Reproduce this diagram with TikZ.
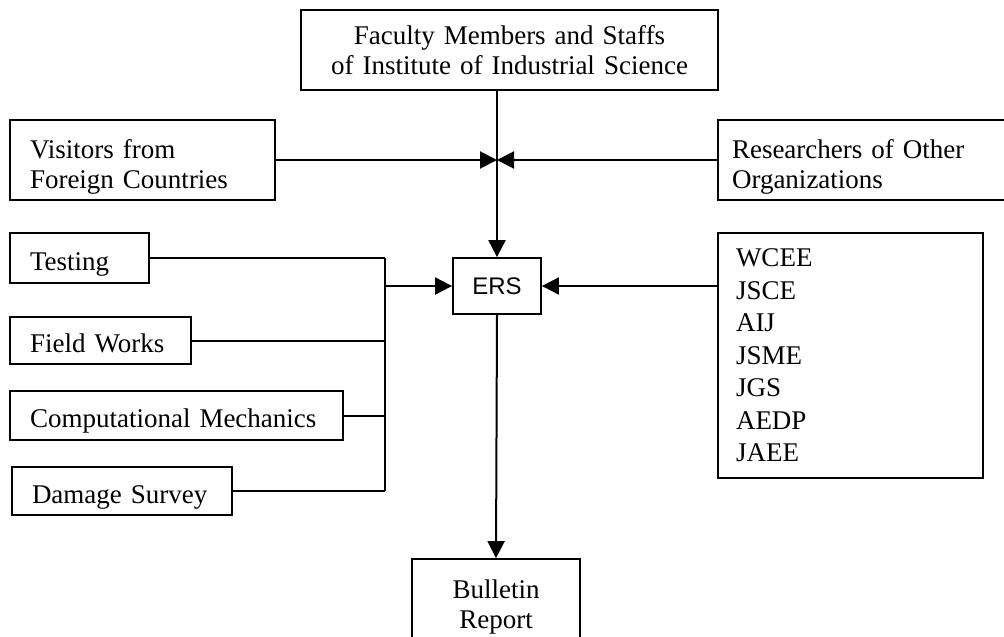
\documentclass[tikz,border=0pt]{standalone}
\usepackage{fontspec}
\setmainfont{Liberation Serif}
\newfontfamily\ersfont{Liberation Sans}
\usetikzlibrary{arrows.meta}

\tikzset{
    box/.style={draw, line width=1.8pt, inner xsep=20pt, inner ysep=0pt, align=left,
        font=\fontsize{27}{30}\selectfont},
    onel/.style={text height=24pt, text depth=0pt},
    arr/.style={line width=2pt, -{Triangle[length=17pt, width=17pt]}},
    wire/.style={line width=2pt}
}

\begin{document}
\begin{tikzpicture}[x=1pt, y=-1pt]
    \useasboundingbox (0,0) rectangle (1004,637);
    \node[box, align=center, text width=377pt, minimum height=80pt] (fac) at (509.5,50)
        {Faculty Members and Staffs\\of Institute of Industrial Science};
    \node[box, text width=225pt, minimum height=80pt, text height=32pt] (vis) at (142.5,160)
        {Visitors from\\Foreign Countries};
    \node[box, inner xsep=14pt, text width=272pt, minimum height=80pt, text height=32pt] (res) at (868,160)
        {Researchers of Other\\Organizations};
    \node[box, onel, text width=99pt, minimum height=50pt] (test) at (79.5,258) {Testing};
    \node[box, onel, text width=141pt, minimum height=47pt] (field) at (100.5,340.5) {Field Works};
    \node[box, onel, text width=293pt, minimum height=49pt] (comp) at (176.5,415.5) {Computational Mechanics};
    \node[box, onel, text width=180pt, minimum height=48pt] (dmg) at (122,491) {Damage Survey};
    \node[box, align=center, inner xsep=0pt, minimum width=88pt, minimum height=56pt,
        font=\ersfont\fontsize{24}{28}\selectfont] (ers) at (497,286) {ERS};
    \node[box, inner xsep=18pt, text width=229pt, minimum height=245pt,
        font=\fontsize{27}{32.5}\selectfont] (list) at (850.5,355.5)
        {WCEE\\JSCE\\AIJ\\JSME\\JGS\\AEDP\\JAEE};
    \node[box, align=center, text width=128pt, minimum height=96pt] (bull) at (496,607)
        {Bulletin\\Report};

    \coordinate (jn) at (ers.north |- vis.east);
    \coordinate (bus) at (385,286);
    \draw[arr] (fac.south -| ers.north) -- (ers.north);
    \draw[arr] (vis.east) -- (jn);
    \draw[arr] (res.west) -- (jn);
    \foreach \n in {test,field,comp,dmg} {
        \draw[wire] (\n.east) -- (\n.east -| bus);
    }
    \draw[wire] (test.east -| bus) -- (dmg.east -| bus);
    \draw[arr] (bus) -- (ers.west);
    \draw[arr] (list.west |- ers.east) -- (ers.east);
    \draw[arr] (ers.south) -- (bull.north);
\end{tikzpicture}
\end{document}
